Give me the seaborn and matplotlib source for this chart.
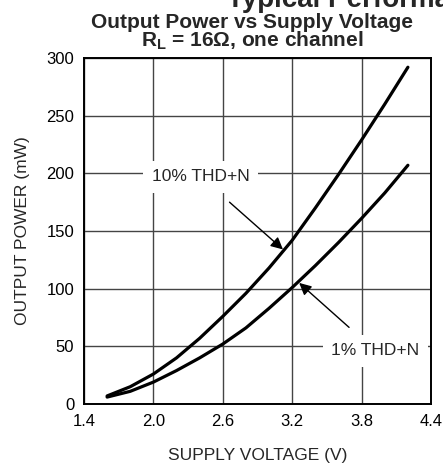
import numpy as np
import pandas as pd
import matplotlib
matplotlib.use("Agg")
import matplotlib.pyplot as plt
import seaborn as sns

# values
supply_v = [1.6, 1.8, 2.0, 2.2, 2.4, 2.6, 2.8, 3.0, 3.2, 3.4, 3.6, 3.8, 4.0, 4.2]
pout_10pct = [7, 15, 26, 40, 57, 76, 96, 118, 142, 170, 199, 229, 260, 292]
pout_1pct = [6, 11, 19, 29, 40, 52, 66, 83, 101, 120, 140, 161, 183, 207]
x_ticks = [1.4, 2.0, 2.6, 3.2, 3.8, 4.4]
y_ticks = [0, 50, 100, 150, 200, 250, 300]

df = pd.DataFrame({
    "v": supply_v * 2,
    "p": pout_10pct + pout_1pct,
    "curve": ["10% THD+N"] * len(supply_v) + ["1% THD+N"] * len(supply_v),
})

sns.set_style("white")
plt.rcParams["font.family"] = ["Liberation Sans", "DejaVu Sans"]

fig = plt.figure(figsize=(4.43, 4.67), dpi=100)
ax = fig.add_axes([0.1896, 0.1349, 0.7834, 0.7409])

sns.lineplot(data=df, x="v", y="p", units="curve", estimator=None,
             color="black", linewidth=2.3, ax=ax, legend=False)

ax.set_xlim(1.4, 4.4)
ax.set_ylim(0, 300)
ax.set_xticks(x_ticks)
ax.set_xticklabels([f"{t:.1f}" for t in x_ticks])
ax.set_yticks(y_ticks)
ax.grid(True, color="#444444", linewidth=1.0)
ax.tick_params(length=0, labelsize=12, colors="black", pad=7)
for s in ax.spines.values():
    s.set_color("black")
    s.set_linewidth(1.4)

ax.set_xlabel("SUPPLY VOLTAGE (V)", fontsize=12.5, labelpad=14)
ax.set_ylabel("OUTPUT POWER (mW)", fontsize=12.5, labelpad=12)

box = dict(boxstyle="square,pad=0.5", fc="white", ec="none")
ax.annotate("10% THD+N", xy=(3.12, 134), xytext=(2.41, 197),
            fontsize=12.5, ha="center", va="center", bbox=box,
            arrowprops=dict(arrowstyle="-|>", color="black", lw=1.0,
                            mutation_scale=18, shrinkA=10, shrinkB=0))
ax.annotate("1% THD+N", xy=(3.26, 105), xytext=(3.92, 46),
            fontsize=12.5, ha="center", va="center", bbox=box,
            arrowprops=dict(arrowstyle="-|>", color="black", lw=1.0,
                            mutation_scale=18, shrinkA=8, shrinkB=0))

fig.text(0.512, 0.985, "Typical Performance", fontsize=20, fontweight="bold",
         ha="left", va="baseline")
fig.text(0.569, 0.9407, "Output Power vs Supply Voltage", fontsize=15,
         fontweight="bold", ha="center", va="baseline")
fig.text(0.569, 0.900, r"R$_\mathregular{L}$ = 16Ω, one channel", fontsize=15,
         fontweight="bold", ha="center", va="baseline")

fig.savefig("out.png", dpi=100)
